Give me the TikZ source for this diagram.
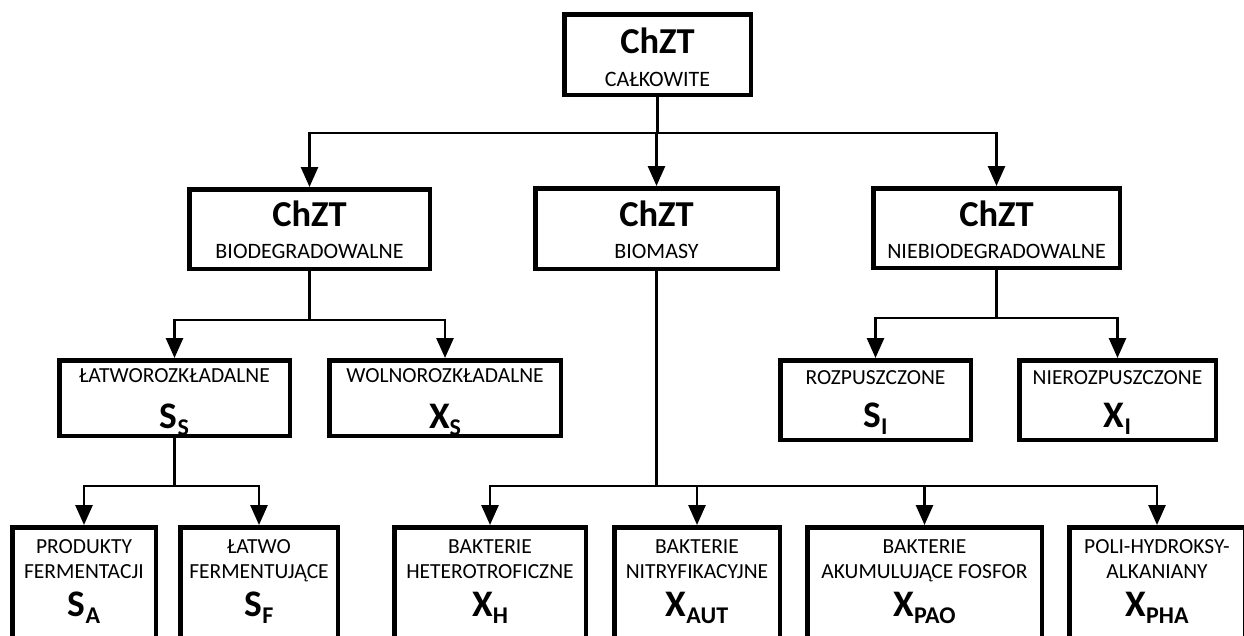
\documentclass[tikz,border=0pt]{standalone}
\usepackage{fontspec}
\setmainfont{Carlito}
\usetikzlibrary{arrows.meta}
\tikzset{
  box/.style={draw, line width=4.5pt, inner sep=0pt},
  conn/.style={line width=2.7pt},
  arr/.style={line width=2.7pt, -{Triangle[length=20pt,width=17pt]}},
  big/.style={anchor=base, inner sep=0pt, font=\fontsize{36.5}{40}\selectfont\bfseries},
  mid/.style={anchor=base, inner sep=0pt, font=\fontsize{22}{24}\selectfont},
  sml/.style={anchor=base, inner sep=0pt, font=\fontsize{21.5}{23}\selectfont},
}
\newcommand{\bx}[5]{\node[box, minimum width=#4pt-#2pt-4.5pt, minimum height=#5pt-#3pt-4.5pt] (#1) at ({(#2+#4)/2},{(#3+#5)/2}) {};}
\newcommand{\sym}[2]{{\fontsize{37.5}{40}\selectfont\bfseries #1}\raisebox{-7pt}{\fontsize{24}{26}\selectfont\bfseries #2}}
\begin{document}
\begin{tikzpicture}[x=1pt,y=-1pt]
\clip (0,0) rectangle (1244,635);
\fill[white] (0,0) rectangle (1244,635);
% boxes
\bx{top}{562}{12}{753}{97}
\bx{bio}{187}{187}{432}{271}
\bx{biom}{533}{186}{780}{271}
\bx{nbio}{871}{186}{1122}{270}
\bx{ss}{57}{358}{292}{438}
\bx{xs}{327}{358}{563}{438}
\bx{si}{778}{358}{973}{442}
\bx{xi}{1017}{358}{1218}{442}
\bx{sa}{10}{525}{158}{670}
\bx{sf}{178}{525}{340}{670}
\bx{xh}{392}{525}{588}{670}
\bx{xaut}{612}{525}{782}{670}
\bx{xpao}{805}{525}{1044}{670}
\bx{xpha}{1067}{525}{1247}{670}
% texts
\node[big] (t1) at (657.5,53) {ChZT};
\node[mid] (t1b) at (657.5,86) {CAŁKOWITE};
\node[big] (t2) at (309.5,226) {ChZT};
\node[mid] (t2b) at (309.5,258) {BIODEGRADOWALNE};
\node[big] (t3) at (656.5,226) {ChZT};
\node[mid] (t3b) at (656.5,258) {BIOMASY};
\node[big] (t4) at (996.5,226) {ChZT};
\node[mid] (t4b) at (996.5,258) {NIEBIODEGRADOWALNE};
\node[sml] (t5) at (174.5,382) {ŁATWOROZKŁADALNE};
\node[anchor=base, inner sep=0pt] (t5b) at (174.5,428) {\sym{S}{S}};
\node[sml] (t6) at (445,382) {WOLNOROZKŁADALNE};
\node[anchor=base, inner sep=0pt] (t6b) at (445,428) {\sym{X}{S}};
\node[sml] (t7) at (875.5,384) {ROZPUSZCZONE};
\node[anchor=base, inner sep=0pt] (t7b) at (875.5,427) {\sym{S}{I}};
\node[sml] (t8) at (1117.5,384) {NIEROZPUSZCZONE};
\node[anchor=base, inner sep=0pt] (t8b) at (1117.5,427) {\sym{X}{I}};
\node[sml] (t9) at (84,553) {PRODUKTY};
\node[sml] (t9b) at (84,578) {FERMENTACJI};
\node[anchor=base, inner sep=0pt] (t9c) at (84,616) {\sym{S}{A}};
\node[sml] (t10) at (259,553) {ŁATWO};
\node[sml] (t10b) at (259,578) {FERMENTUJĄCE};
\node[anchor=base, inner sep=0pt] (t10c) at (259,616) {\sym{S}{F}};
\node[sml] (t11) at (490,553) {BAKTERIE};
\node[sml] (t11b) at (490,578) {HETEROTROFICZNE};
\node[anchor=base, inner sep=0pt] (t11c) at (490,616) {\sym{X}{H}};
\node[sml] (t12) at (697,553) {BAKTERIE};
\node[sml] (t12b) at (697,578) {NITRYFIKACYJNE};
\node[anchor=base, inner sep=0pt] (t12c) at (697,616) {\sym{X}{AUT}};
\node[sml] (t13) at (924.5,553) {BAKTERIE};
\node[sml] (t13b) at (924.5,578) {AKUMULUJĄCE FOSFOR};
\node[anchor=base, inner sep=0pt] (t13c) at (924.5,616) {\sym{X}{PAO}};
\node[sml] (t14) at (1157,553) {POLI-HYDROKSY-};
\node[sml] (t14b) at (1157,578) {ALKANIANY};
\node[anchor=base, inner sep=0pt] (t14c) at (1157,616) {\sym{X}{PHA}};
% junctions
\coordinate (j0) at (657.5,133);
\coordinate (j1) at (309.5,320);
\coordinate (j2) at (996.5,318);
\coordinate (j3) at (174.5,486);
\coordinate (j4) at (656.5,486);
% connectors
\draw[conn] (top.south) -- (j0);
\draw[arr] (j0) -| (bio.north);
\draw[arr] (j0) -| (biom.north);
\draw[arr] (j0) -| (nbio.north);
\draw[conn] (bio.south) -- (j1);
\draw[arr] (j1) -| (ss.north);
\draw[arr] (j1) -| (xs.north);
\draw[conn] (nbio.south) -- (j2);
\draw[arr] (j2) -| (si.north);
\draw[arr] (j2) -| (xi.north);
\draw[conn] (ss.south) -- (j3);
\draw[arr] (j3) -| (sa.north);
\draw[arr] (j3) -| (sf.north);
\draw[conn] (biom.south) -- (j4);
\draw[arr] (j4) -| (xh.north);
\draw[arr] (j4) -| (xaut.north);
\draw[arr] (j4) -| (xpao.north);
\draw[arr] (j4) -| (xpha.north);
\end{tikzpicture}
\end{document}
